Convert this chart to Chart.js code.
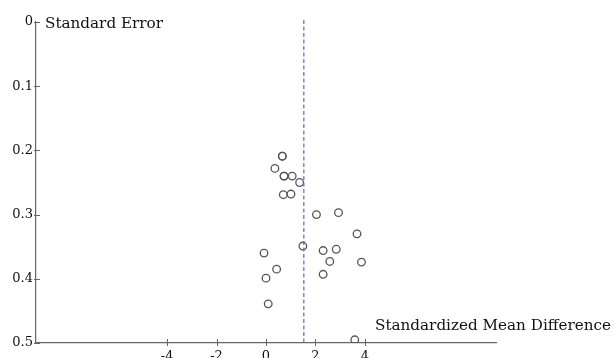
<!DOCTYPE html>
<html>
<head>
<meta charset="utf-8">
<script src="https://cdn.jsdelivr.net/npm/chart.js@4.4.1/dist/chart.umd.min.js"></script>
<style>
  html, body { margin: 0; padding: 0; background: #fff; overflow: hidden; }
  canvas { display: block; }
</style>
</head>
<body>
<canvas id="funnelChart" width="614" height="372"></canvas>
<script>
// study effect sizes (standardized mean difference) and their standard errors
const smd = [0.66, 0.66, 0.36, 0.73, 0.73, 1.06, 1.36, 0.70, 1.01, 2.04, 2.93,
             3.68, -0.08, 1.49, 2.31, 2.84, 2.58, 3.86, 0.43, 0.00, 2.31, 0.09, 3.59];
const se = [0.209, 0.209, 0.228, 0.240, 0.240, 0.240, 0.250, 0.269, 0.268, 0.300, 0.297,
            0.330, 0.360, 0.349, 0.356, 0.354, 0.373, 0.374, 0.385, 0.399, 0.393, 0.439, 0.495];
const xTicks = [-4, -2, 0, 2, 4];
const yTicks = [0, 0.1, 0.2, 0.3, 0.4, 0.5];
const yTickLabels = ["0", "0.1", "0.2", "0.3", "0.4", "0.5"];
const pooledSmd = 1.53;

const serif = "'DejaVu Serif', serif";
const axisColor = "#666";

const points = smd.map((x, i) => ({ x: x, y: se[i] }));

// tick marks crossing the axes, pooled effect line and axis titles
const funnelDecor = {
    id: "funnelDecor",
    afterDraw(chart) {
        const ctx = chart.ctx;
        const xs = chart.scales.x;
        const ys = chart.scales.y;
        const area = chart.chartArea;
        ctx.save();

        ctx.strokeStyle = axisColor;
        ctx.lineWidth = 1;
        yTicks.forEach(v => {
            const py = Math.round(ys.getPixelForValue(v)) + 0.5;
            ctx.beginPath();
            ctx.moveTo(area.left - 2, py);
            ctx.lineTo(area.left + 4, py);
            ctx.stroke();
        });
        xTicks.forEach(v => {
            const px = Math.round(xs.getPixelForValue(v)) + 0.5;
            ctx.beginPath();
            ctx.moveTo(px, area.bottom - 4);
            ctx.lineTo(px, area.bottom + 3);
            ctx.stroke();
        });

        // pooled estimate
        const lx = xs.getPixelForValue(pooledSmd);
        ctx.strokeStyle = "#6b63c9";
        ctx.lineWidth = 1.2;
        ctx.setLineDash([4, 2.5]);
        ctx.beginPath();
        ctx.moveTo(lx, area.top - 2);
        ctx.lineTo(lx, area.bottom);
        ctx.stroke();
        ctx.setLineDash([]);

        ctx.fillStyle = "#111";
        ctx.font = "15.2px " + serif;
        ctx.textBaseline = "alphabetic";
        ctx.textAlign = "left";
        ctx.fillText("Standard Error", area.left + 9, 28);
        ctx.fillText("Standardized Mean Difference", 375, 330);
        ctx.restore();
    }
};

new Chart(document.getElementById("funnelChart"), {
    type: "scatter",
    data: {
        datasets: [{
            data: points,
            pointStyle: "circle",
            pointRadius: 3.8,
            pointHoverRadius: 3.8,
            borderColor: "#555",
            borderWidth: 1.3,
            backgroundColor: "rgba(255,255,255,0)"
        }]
    },
    options: {
        responsive: false,
        animation: false,
        layout: { padding: { top: 22, right: 118, left: 0, bottom: 0 } },
        plugins: {
            legend: { display: false },
            tooltip: { enabled: false }
        },
        scales: {
            x: {
                type: "linear",
                min: -9.3,
                max: 9.3,
                afterBuildTicks: scale => { scale.ticks = xTicks.map(v => ({ value: v })); },
                afterFit: scale => { scale.height = 29; },
                grid: { display: true, drawOnChartArea: false, drawTicks: false },
                border: { display: true, color: axisColor, width: 1.2 },
                ticks: {
                    padding: 6,
                    color: "#111",
                    font: { family: serif, size: 13 },
                    callback: v => String(v)
                }
            },
            y: {
                type: "linear",
                reverse: true,
                min: 0,
                max: 0.5,
                afterBuildTicks: scale => { scale.ticks = yTicks.map(v => ({ value: v })); },
                afterFit: scale => { scale.width = 36; },
                grid: { display: true, drawOnChartArea: false, drawTicks: false },
                border: { display: true, color: axisColor, width: 1.2 },
                ticks: {
                    padding: 3,
                    color: "#111",
                    font: { family: serif, size: 13 },
                    callback: (v, i) => yTickLabels[i]
                }
            }
        }
    },
    plugins: [funnelDecor]
});
</script>
</body>
</html>
